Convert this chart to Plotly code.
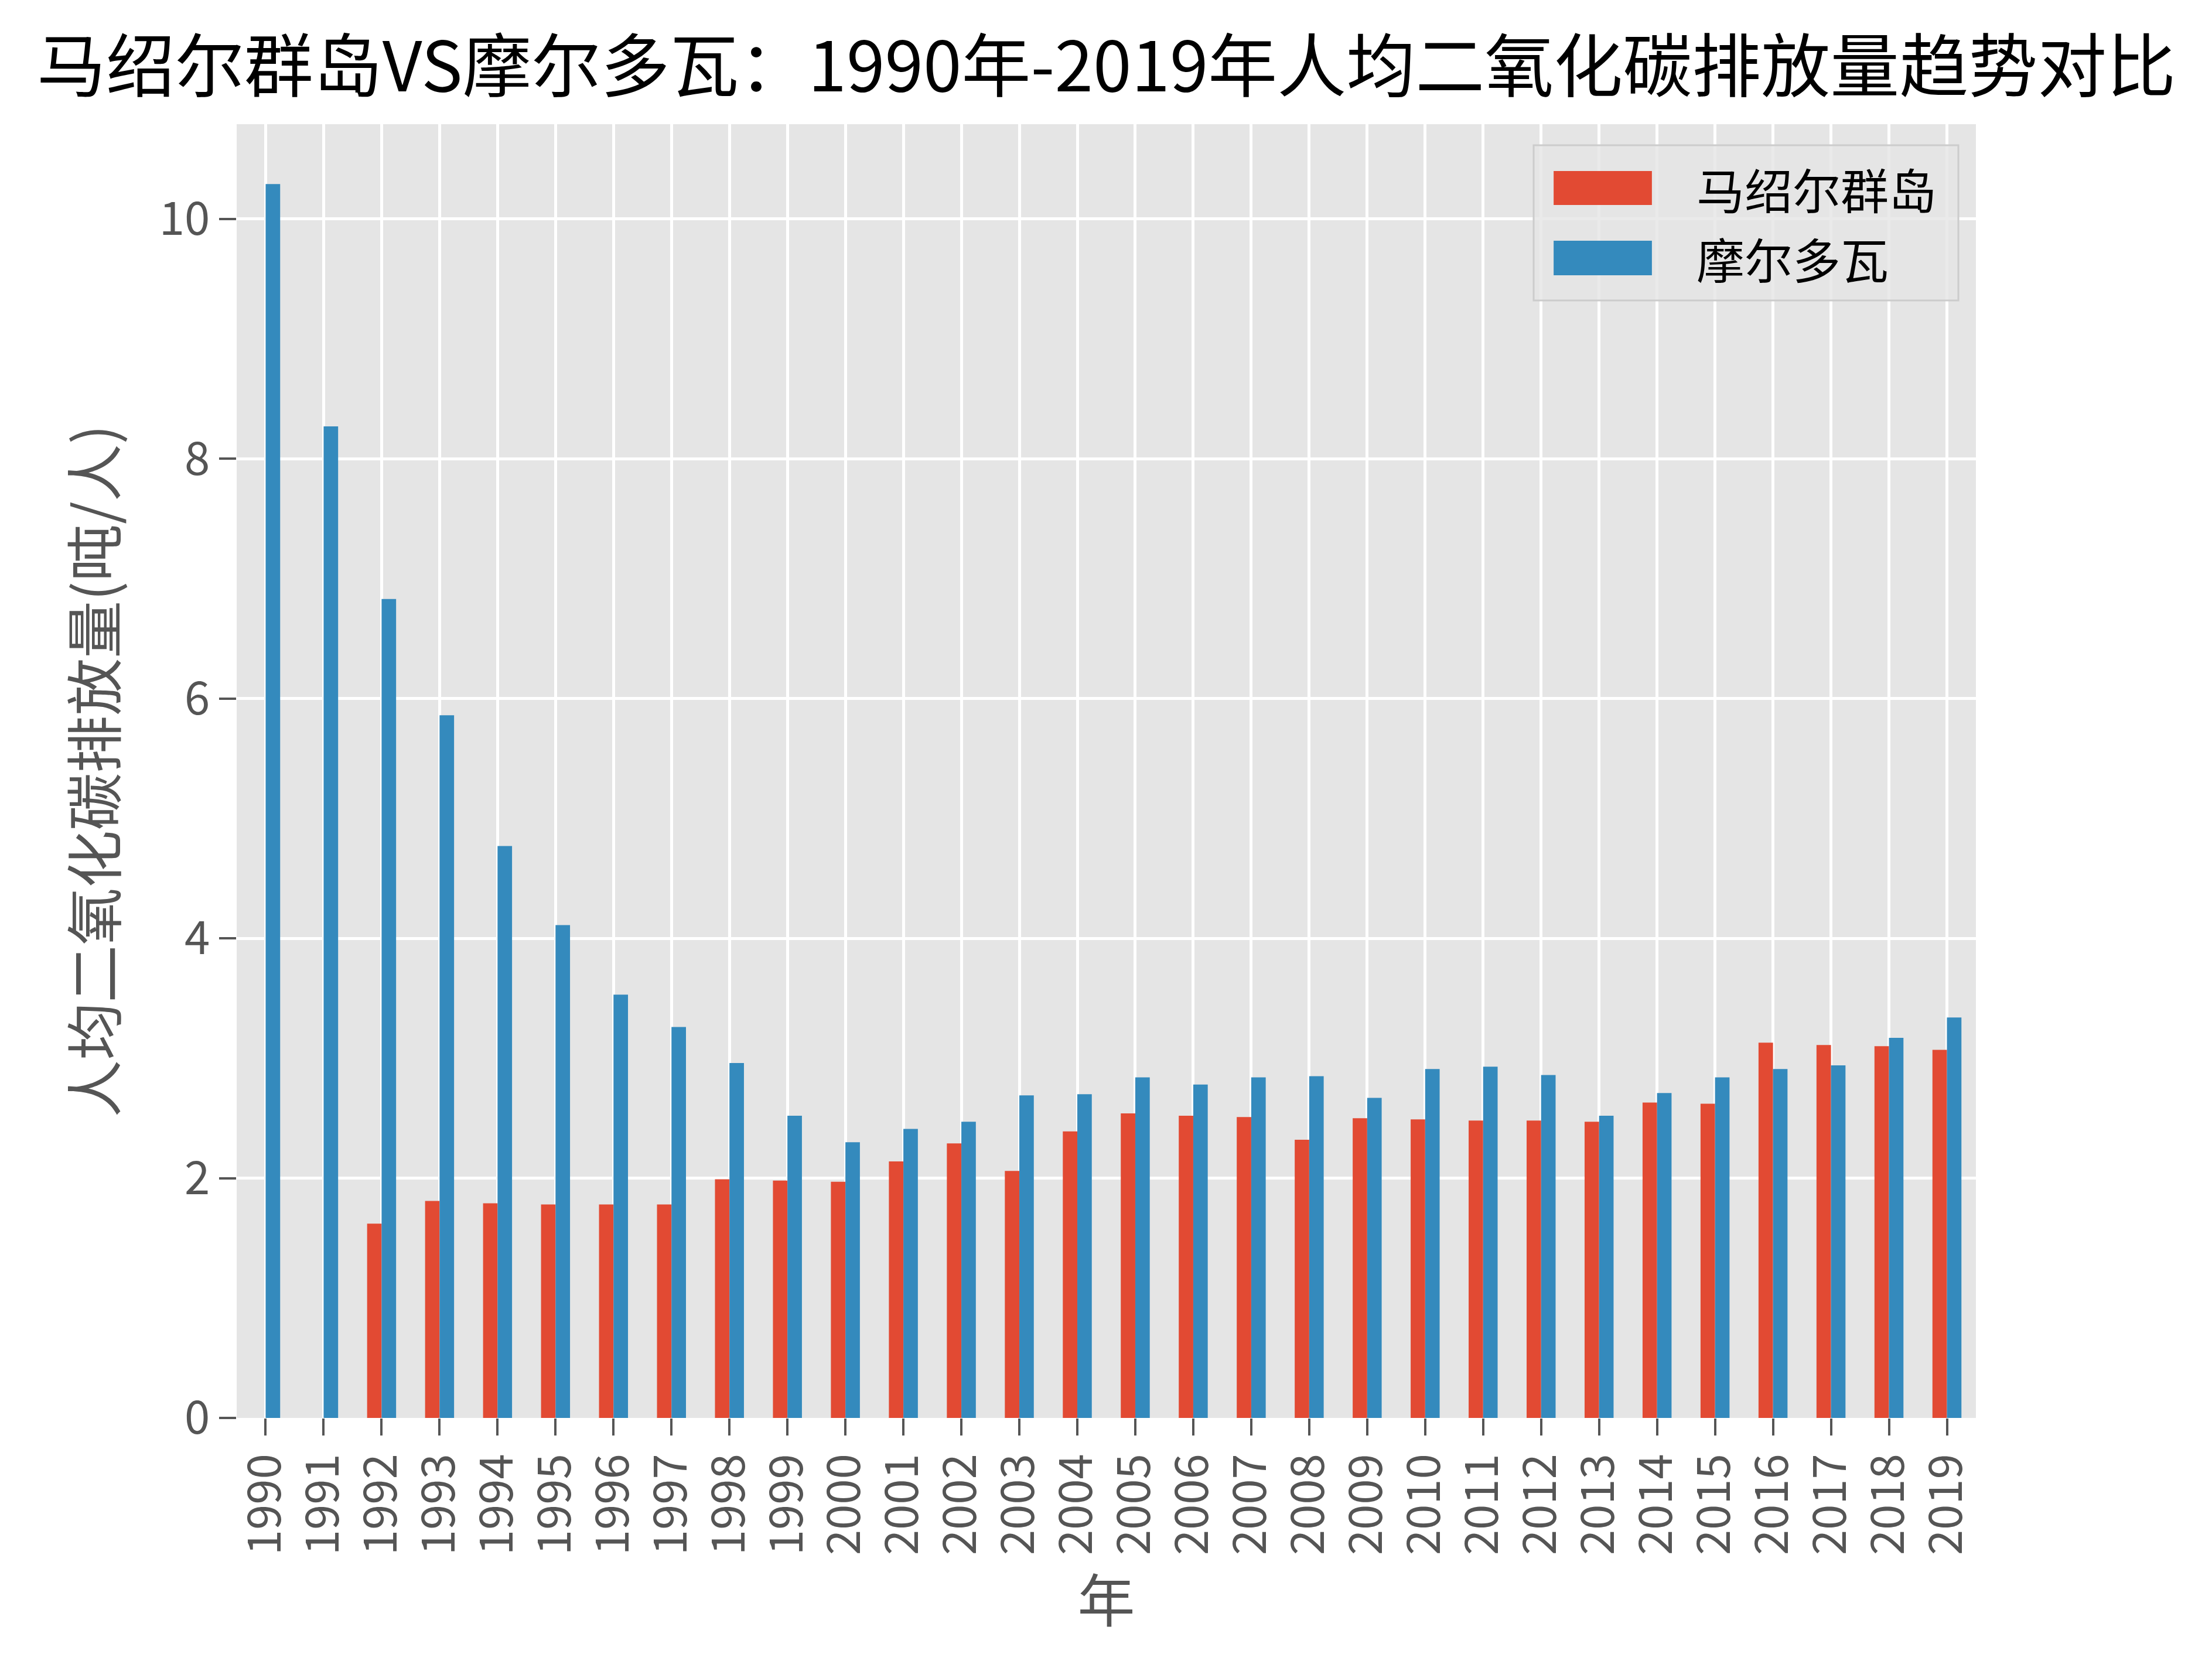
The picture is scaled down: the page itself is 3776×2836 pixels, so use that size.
import plotly.graph_objects as go

years = [str(y) for y in range(1990, 2020)]
marshall = [None, None, 1.62, 1.81, 1.79, 1.78, 1.78, 1.78, 1.99, 1.98,
            1.97, 2.14, 2.29, 2.06, 2.39, 2.54, 2.52, 2.51, 2.32, 2.50,
            2.49, 2.48, 2.48, 2.47, 2.63, 2.62, 3.13, 3.11, 3.10, 3.07]
moldova = [10.29, 8.27, 6.83, 5.86, 4.77, 4.11, 3.53, 3.26, 2.96, 2.52,
           2.30, 2.41, 2.47, 2.69, 2.70, 2.84, 2.78, 2.84, 2.85, 2.67,
           2.91, 2.93, 2.86, 2.52, 2.71, 2.84, 2.91, 2.94, 3.17, 3.34]
series_names = ["马绍尔群岛", "摩尔多瓦"]
colors = ["#E24A33", "#348ABD"]
yticks = [0, 2, 4, 6, 8, 10]

title_text = "马绍尔群岛VS摩尔多瓦：1990年-2019年人均二氧化碳排放量趋势对比"
ylabel = "人均二氧化碳排放量(吨/人)"
xlabel = "年"

FONT = "Noto Sans CJK SC"
W, H = 3776, 2836
ML, MR, MT, MB = 404, 403, 212, 415

fig = go.Figure()
for name, vals, c in zip(series_names, [marshall, moldova], colors):
    fig.add_trace(go.Bar(x=years, y=vals, name=name, marker=dict(color=c, line=dict(width=0)),
                         showlegend=False))

fig.update_layout(
    width=W, height=H,
    margin=dict(l=ML, r=MR, t=MT, b=MB, autoexpand=False),
    paper_bgcolor="white", plot_bgcolor="#E5E5E5",
    barmode="group", bargap=0.5, bargroupgap=0,
    font=dict(family=FONT, color="#555555"),
    title=dict(text=title_text, x=0.5, xanchor="center", xref="paper",
               y=1 - 115 / H, yref="container", yanchor="middle",
               font=dict(family=FONT, size=118, color="black")),
    xaxis=dict(type="category", range=[-0.5, 29.5], tickmode="array", tickvals=years,
               ticktext=years, tickangle=-90, showgrid=True, gridcolor="white", gridwidth=5,
               ticks="outside", ticklen=29, tickwidth=4, tickcolor="#555555",
               tickfont=dict(size=78, color="#555555", family=FONT),
               showline=False, zeroline=False,
               title=dict(text=xlabel, font=dict(size=98, color="#555555", family=FONT), standoff=25)),
    yaxis=dict(range=[0, 10.79], tickmode="array", tickvals=yticks, ticktext=[str(v) for v in yticks],
               showgrid=True, gridcolor="white", gridwidth=5, zeroline=False, showline=False,
               ticks="outside", ticklen=29, tickwidth=4, tickcolor="#555555",
               tickfont=dict(size=78, color="#555555", family=FONT),
               title=dict(text=ylabel, font=dict(size=98, color="#555555", family=FONT), standoff=40)),
)

# custom legend (matplotlib-style wide swatches)
fig.add_shape(type="rect", xref="paper", yref="paper", x0=0.7457, x1=0.9899, y0=0.8637, y1=0.9837,
              fillcolor="rgba(229,229,229,0.8)", line=dict(color="#CCCCCC", width=3), layer="above")
sw_y = [(0.9375, 0.9638), (0.8832, 0.9099)]
for (y0, y1), name, c in zip(sw_y, series_names, colors):
    fig.add_shape(type="rect", xref="paper", yref="paper", x0=0.7572, x1=0.8137, y0=y0, y1=y1,
                  fillcolor=c, line=dict(width=0), layer="above")
    fig.add_annotation(xref="paper", yref="paper", x=0.8387, y=(y0 + y1) / 2, text=name,
                       showarrow=False, xanchor="left", yanchor="middle",
                       font=dict(family=FONT, size=82, color="black"))

fig.write_html("out.html", config={"displayModeBar": False},
               post_script="document.body.style.margin='0';document.body.style.overflow='hidden';")
